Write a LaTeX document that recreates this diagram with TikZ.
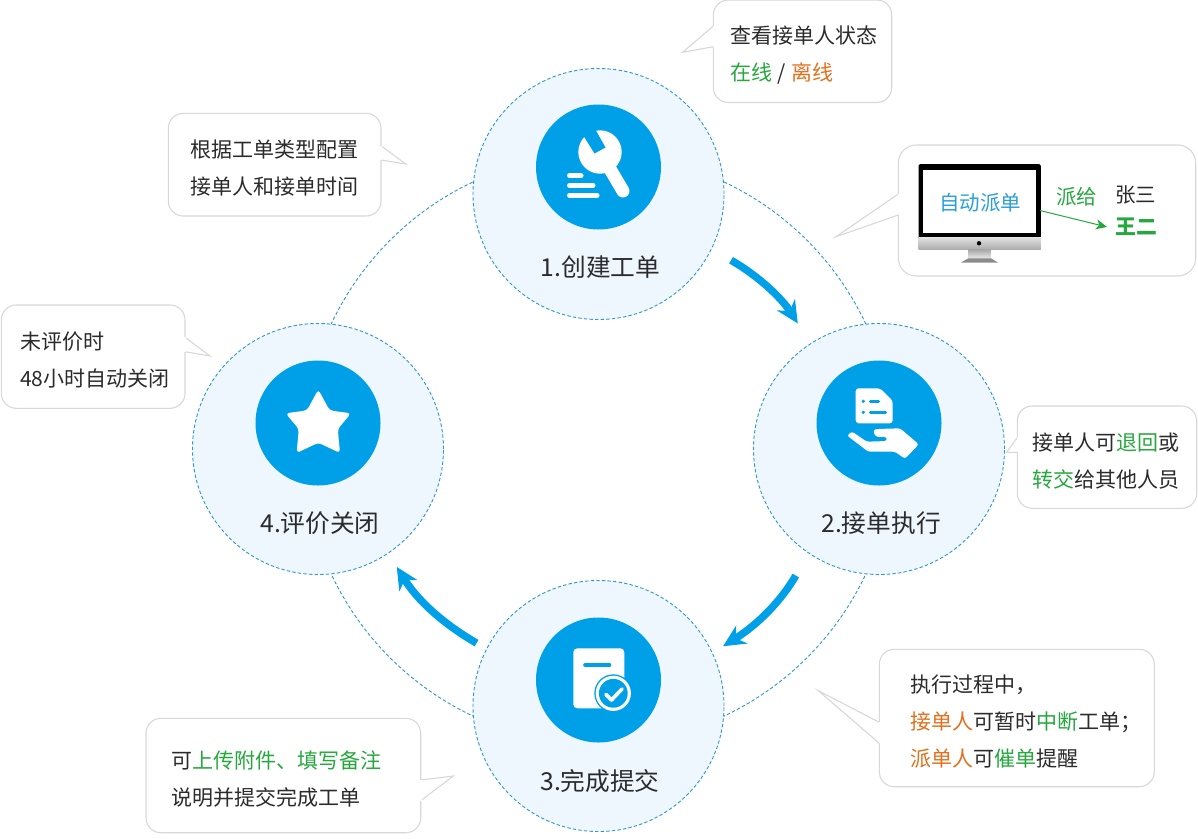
\documentclass[tikz,border=0pt]{standalone}
\usepackage{fontspec}
\setmainfont{Noto Sans CJK SC}
\usetikzlibrary{arrows.meta}

\definecolor{iconblue}{HTML}{00A0E9}
\definecolor{paleblue}{HTML}{EEF7FD}
\definecolor{ringblue}{HTML}{2E96D2}
\definecolor{bubbleline}{HTML}{D8D8D8}
\definecolor{textgreen}{HTML}{27A83E}
\definecolor{textorange}{HTML}{E2701C}
\definecolor{textdark}{HTML}{2B2B2B}
\definecolor{screenblue}{HTML}{2A9FDC}

\tikzset{
  ringline/.style={draw=ringblue,line width=.9pt,dash pattern=on 3.4pt off 2.2pt},
  stepcircle/.style={circle,ringline,fill=paleblue,minimum size=251pt,inner sep=0pt,outer sep=0pt},
  iconcircle/.style={circle,fill=iconblue,minimum size=125pt,inner sep=0pt},
  steptitle/.style={text=textdark,font=\fontsize{24.7}{28}\selectfont,inner sep=0pt},
  bubble/.style={draw=bubbleline,line width=1.1pt,fill=white,rounded corners=15pt,anchor=north west,
    align=left,inner ysep=0pt,outer sep=0pt,text=textdark,font=\fontsize{21}{37}\selectfont,
    execute at begin node={\rule{0pt}{25pt}}},
  flowarrow/.style={draw=iconblue,line width=7.5pt,-{Stealth[length=22pt,width=21pt,inset=7pt]}},
  greenlabel/.style={text=textgreen,font=\fontsize{20.5}{24}\selectfont,inner sep=0pt}
}
\newcommand{\gr}[1]{\textcolor{textgreen}{#1}}
\newcommand{\og}[1]{\textcolor{textorange}{#1}}
\newcommand{\bubbletail}[4]{%
  \draw[draw=bubbleline,line width=1.1pt,fill=white] (#1 |- 0,#2) -- (#4) -- (#1 |- 0,#3);
  \draw[white,line width=1.6pt] (#1 |- 0,#2) -- (#1 |- 0,#3);
}

\begin{document}
\begin{tikzpicture}[x=1pt,y=-1pt]
  \useasboundingbox (0,0) rectangle (1198,838);

  \node (ring) [circle,ringline,minimum size=590pt,inner sep=0pt] at (598.5,449) {};
  \node (step1) [stepcircle] at (598.5,194) {};
  \node (step2) [stepcircle] at (879,449) {};
  \node (step3) [stepcircle] at (598.5,706) {};
  \node (step4) [stepcircle] at (318,449) {};

  \node (icon1) [iconcircle] at (598.5,167) {};
  \node (icon2) [iconcircle] at (879,423) {};
  \node (icon3) [iconcircle] at (598.5,680) {};
  \node (icon4) [iconcircle] at (318,423) {};

  \node (title1) [steptitle] at (600.5,267) {1.创建工单};
  \node (title2) [steptitle] at (881,523) {2.接单执行};
  \node (title3) [steptitle] at (600,781) {3.完成提交};
  \node (title4) [steptitle] at (320,523) {4.评价关闭};

  % wrench
  \fill[white] (600,152) circle (21.7pt);
  \draw[white,line width=13pt,line cap=round] (600,152) -- (623,191);
  \fill[iconblue] (583,135) -- (594.5,153.5) -- (605.5,147.5) -- (594,127) -- cycle;
  \draw[white,line width=5pt,line cap=round] (569.5,175.7) -- (581,175.7);
  \draw[white,line width=5pt,line cap=round] (569.5,185.3) -- (593,185.3);
  \draw[white,line width=5pt,line cap=round] (569.5,195.3) -- (597,195.3);

  % sheet on a hand
  \fill[white,rounded corners=3pt] (855.7,388.3) -- (880,388.3) -- (892.7,400.7) -- (892.7,423.3) -- (855.7,423.3) -- cycle;
  \fill[iconblue] (863.3,401.3) circle (1.8pt) (863.3,412.3) circle (1.8pt);
  \draw[iconblue,line width=3.4pt,line cap=round] (870.5,401.3) -- (878.5,401.3);
  \draw[iconblue,line width=3.4pt,line cap=round] (870.5,412.3) -- (885.5,412.3);
  \fill[white,rounded corners=2.5pt] (847,435.5) -- (852,431.5) -- (866.7,441.7) -- (886.7,441) -- (887,437) -- (875.5,436.7) -- (873,430) -- (877.3,429) -- (900,428.3) -- (918.8,444.3) -- (905,458.8) -- (895,451.7) -- (868.3,451.7) -- cycle;

  % form with a check mark
  \fill[white,rounded corners=4pt] (573.3,648.3) rectangle (624.3,708.3);
  \draw[iconblue,line width=3.6pt,line cap=round] (585,665) -- (609.5,665);
  \fill[iconblue] (613.3,693.3) circle (19pt);
  \fill[white] (613.3,693.3) circle (17.6pt);
  \fill[iconblue] (613.3,693.3) circle (14.4pt);
  \draw[white,line width=3.6pt,line cap=round,line join=round] (606,694.5) -- (611.5,700) -- (622,689);

  % star
  \fill[white,rounded corners=3.5pt] (318.3,389.5) -- (329.6,410.4) -- (351,413.3) -- (337.8,429) -- (340,453) -- (318.3,442.7) -- (296.6,453) -- (298.8,429) -- (285.6,413.3) -- (307,410.4) -- cycle;

  \draw[flowarrow,shorten <=22.7pt,shorten >=24pt] (step1.-26) to[bend left=14] (step2.123.4);
  \draw[flowarrow,shorten <=26pt,shorten >=12.7pt] (step2.236.5) to[bend left=14] (step3.25.2);
  \draw[flowarrow,shorten <=11.7pt,shorten >=16.3pt] (step3.153.7) to[bend left=14] (step4.-56.8);

  \node (bubbleA) [bubble,inner xsep=16.7pt,text width=145pt,minimum height=102.5pt] at (713.3,0)
    {查看接单人状态\\\gr{在线}\hspace{5.5pt}/\hspace{5.5pt}\og{离线}};
  \bubbletail{bubbleA.west}{26}{46.7}{682.7,52.3}

  \node (bubbleB) [bubble,inner xsep=22.4pt,text width=167.9pt,minimum height=102.7pt] at (168.3,113.3)
    {根据工单类型配置\\接单人和接单时间};
  \bubbletail{bubbleB.east}{145.7}{160}{405.7,164}

  \node (bubbleC) [bubble,rounded corners=18pt,minimum width=297.4pt,minimum height=131pt] at (898.3,145) {};
  \bubbletail{bubbleC.west}{194}{215}{836,236.7}

  \node (bubbleD) [bubble,inner xsep=15.4pt,text width=148.6pt,minimum height=102.3pt] at (1017.3,406)
    {接单人可\gr{退回}或\\\gr{转交}给其他人员};
  \bubbletail{bubbleD.west}{437.3}{452.3}{1006.7,452.3}

  \node (bubbleE) [bubble,inner xsep=30.7pt,text width=213.6pt,minimum height=137.4pt] at (879.3,649.3)
    {执行过程中，\\\og{接单人}可暂时\gr{中断}工单；\\\og{派单人}可\gr{催单}提醒};
  \bubbletail{bubbleE.west}{722.3}{743.3}{818.3,690.7}

  \node (bubbleF) [bubble,inner xsep=25.7pt,text width=223.3pt,minimum height=114.4pt] at (146,718.3)
    {可\gr{上传附件、填写备注}\\说明并提交完成工单};
  \bubbletail{bubbleF.east}{780}{800.7}{453.3,776}

  \node (bubbleG) [bubble,inner xsep=18.7pt,text width=146.3pt,minimum height=103.3pt] at (1.3,305)
    {未评价时\\48小时自动关闭};
  \bubbletail{bubbleG.east}{337.3}{351.7}{210,356}

  % monitor
  \node (monitor) [fill=black,rounded corners=1.5pt,minimum width=122.4pt,minimum height=75pt,inner sep=0pt,anchor=north west] at (918.3,164) {};
  \node (chin) [top color=black!12,bottom color=black!32,minimum width=122.4pt,minimum height=11.7pt,inner sep=0pt,anchor=north west] at (918.3,237.3) {};
  \node (stand) [top color=black!35,bottom color=black!8,minimum width=22.7pt,minimum height=9.3pt,inner sep=0pt,anchor=north] at (979.5,249) {};
  \fill[black!45] (968.3,258.3) -- (991,258.3) -- (998.3,262.7) -- (960.7,262.7) -- cycle;
  \fill[black] (979,243.3) circle (2.2pt);
  \node (screen) [fill=white,minimum width=113.3pt,minimum height=63.4pt,inner sep=0pt,anchor=north west] at (922.7,169.3) {};
  \node (autolabel) [text=screenblue,inner sep=0pt,font=\fontsize{20.5}{24}\selectfont] at (980,203) {自动派单};

  \node (paigei) [greenlabel] at (1076.7,196.7) {派给};
  \node (zhang) [text=textdark,font=\fontsize{20.5}{24}\selectfont,inner sep=0pt] at (1135.7,195) {张三};
  \node (wang) [greenlabel,font=\fontsize{20.8}{24}\bfseries\selectfont,inner xsep=8pt] at (1136,227) {王二};
  \coordinate (dispatch) at (1040,210.5);
  \draw[draw=textgreen,line width=1pt,-{Stealth[length=11pt,width=10pt,inset=3pt]}] (dispatch) -- (wang.west);
\end{tikzpicture}
\end{document}
